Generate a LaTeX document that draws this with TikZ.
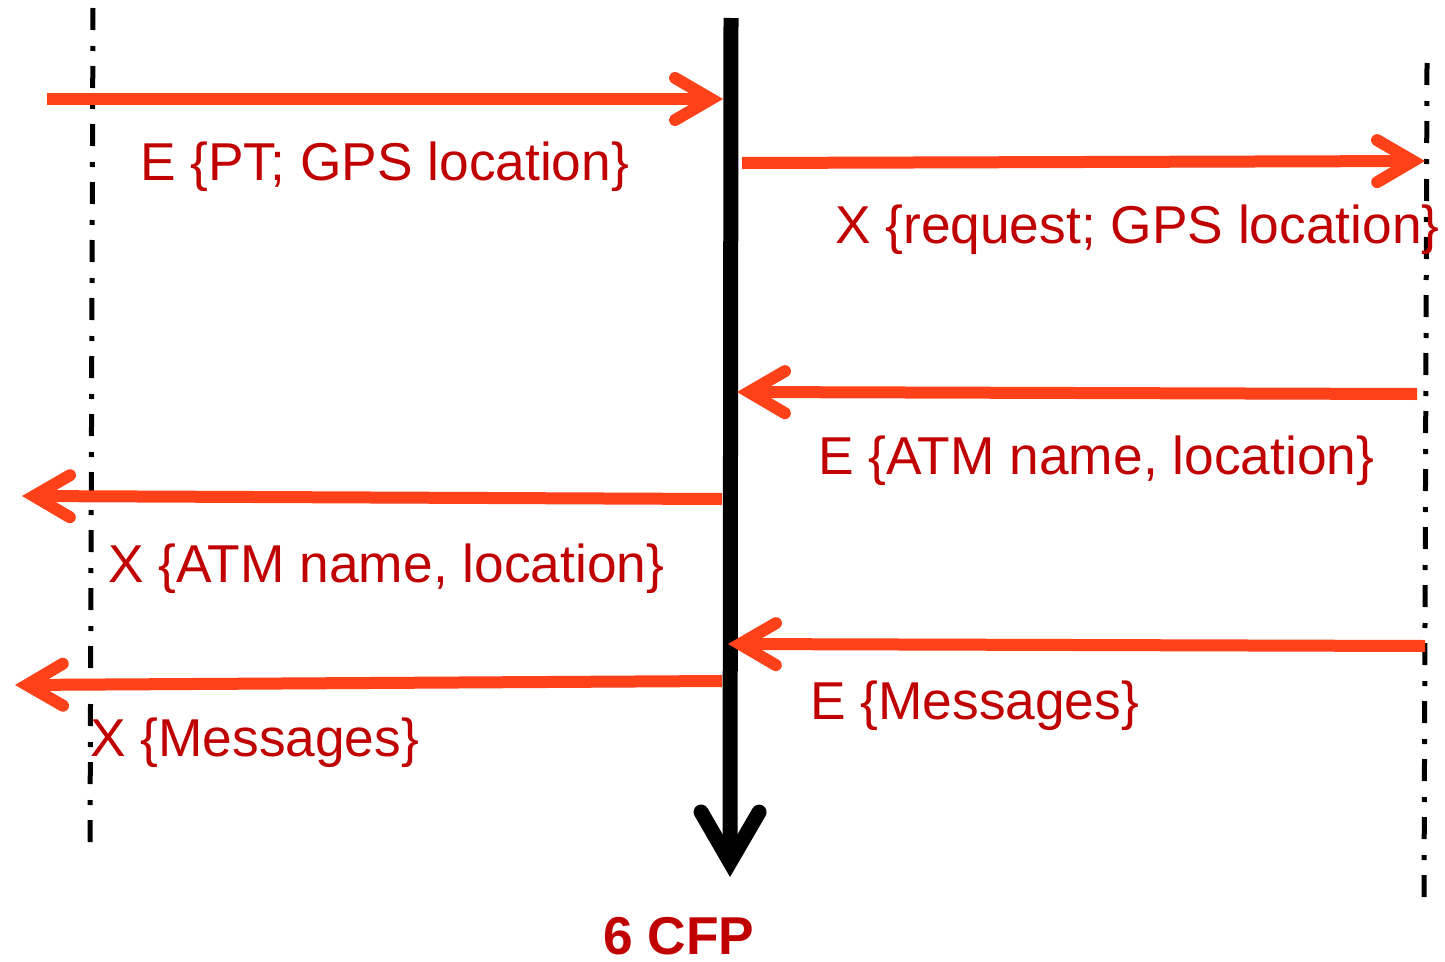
\documentclass[tikz,border=0pt]{standalone}
\usepackage{fontspec}
\setmainfont{Liberation Sans}
\usetikzlibrary{arrows.meta,calc}
\definecolor{msgred}{RGB}{255,65,25}
\definecolor{labelred}{RGB}{192,0,0}
\tikzset{
  lifeline/.style={line width=5pt, dash pattern=on 22pt off 16pt on 5pt off 15pt},
  timeline/.style={line width=15pt,
    -{Straight Barb[length=50pt, width=58pt, line cap=round, line join=miter]}},
  msg/.style={draw=msgred, line width=12pt,
    -{Straight Barb[length=36pt, width=42pt, line cap=round, line join=miter]}},
  lbl/.style={inner sep=0pt, anchor=base west, text=labelred,
    font=\fontsize{53.3}{60}\selectfont},
  title/.style={lbl, text depth=0pt, font=\fontsize{53.3}{60}\selectfont\bfseries}
}
\begin{document}
\begin{tikzpicture}[x=1pt,y=-1pt]
  \useasboundingbox (0,0) rectangle (1445,961);

  % lifelines
  \coordinate (ltop) at (93,8);
  \coordinate (lbot) at (90,845);
  \coordinate (rtop) at (1427,63);
  \coordinate (rbot) at (1424,898);
  \coordinate (ctop) at (731,18);
  \coordinate (cbot) at (730,877);
  \draw[lifeline] (ltop) -- (lbot);
  \draw[lifeline] (rtop) -- (rbot);
  \draw[timeline] (ctop) -- (cbot);

  % message end points
  \coordinate (a1) at (47,99);    \coordinate (b1) at (723,99);
  \coordinate (a2) at (742,163);  \coordinate (b2) at (1425,161);
  \coordinate (a3) at (1417,394); \coordinate (b3) at (737,392);
  \coordinate (a4) at (722,499);  \coordinate (b4) at (22,496);
  \coordinate (a5) at (1425,646); \coordinate (b5) at (728,644);
  \coordinate (a6) at (722,681);  \coordinate (b6) at (15,685);

  \draw[msg] (a1) -- (b1);
  \draw[msg] (a2) -- (b2);
  \draw[msg] (a3) -- (b3);
  \draw[msg] (a4) -- (b4);
  \draw[msg] (a5) -- (b5);
  \draw[msg] (a6) -- (b6);

  % labels
  \node[lbl] (t1) at (140,180) {E \{PT; GPS location\}};
  \node[lbl] (t2) at (835,243) {X \{request; GPS location\}};
  \node[lbl] (t3) at (818,474) {E \{ATM name, location\}};
  \node[lbl] (t4) at (108,582) {X \{ATM name, location\}};
  \node[lbl] (t5) at (810,719) {E \{Messages\}};
  \node[lbl] (t6) at (90,756) {X \{Messages\}};
  \node[title] (t7) at (603,954) {6 CFP};
\end{tikzpicture}
\end{document}
